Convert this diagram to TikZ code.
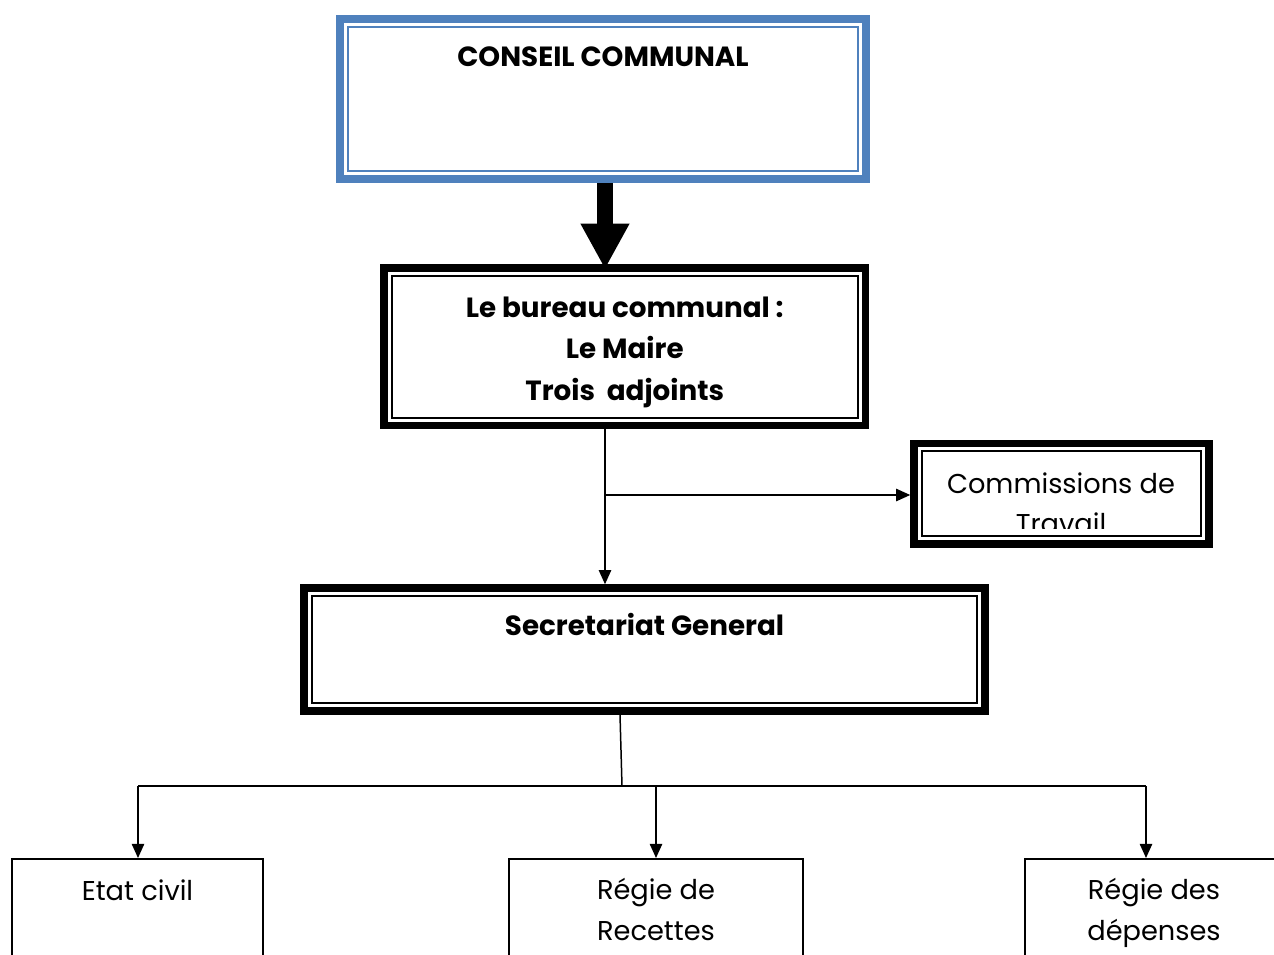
\documentclass[tikz,border=0pt]{standalone}
\usepackage{fontspec}
\setmainfont{Poppins}
\usetikzlibrary{positioning}
\usetikzlibrary{arrows.meta}
\definecolor{wordblue}{RGB}{79,129,189}
\tikzset{
    framebox/.style = {rectangle, draw=#1, line width=4.3pt, fill=white, inner sep=0pt,
        path picture={\draw[#1,line width=1.1pt]
            ([shift={(4.5pt,-4.5pt)}]path picture bounding box.north west) rectangle
            ([shift={(-4.5pt,4.5pt)}]path picture bounding box.south east);}},
    servbox/.style = {rectangle, draw=black, line width=1.1pt, anchor=north, minimum height=3cm, inner sep=0pt},
    boldtext/.style = {font=\fontsize{15.8}{23.5}\selectfont\bfseries, align=center},
    plaintext/.style = {font=\fontsize{15.5}{23}\selectfont, align=center},
    toplabel/.style = {anchor=base, inner sep=0pt, yshift=#1},
    edgen/.style = {-{Triangle[length=8pt,width=7pt]}, line width=0.85pt},
    edgep/.style = {line width=0.85pt},
    bigarrow/.style = {-{Triangle[length=26pt,width=26pt]}, line width=9pt}
}
\begin{document}
\begin{tikzpicture}[x=0.02cm, y=-0.02cm]
\useasboundingbox (0,0) rectangle (1274,954);
\clip (0,0) rectangle (1274,954);
%
\node[framebox=wordblue, minimum width=10.52cm, minimum height=3.2cm,
      label={[toplabel=-1.02cm, boldtext]north:CONSEIL COMMUNAL}] at (603,99) (conseil) {};
\node[framebox=black, minimum width=9.63cm, minimum height=3.15cm,
      label={[toplabel=-2.72cm, boldtext]north:Le bureau communal :\\Le Maire\\Trois\ \ adjoints}] at (624.75,346.75) (bureau) {};
\node[framebox=black, minimum width=5.9cm, minimum height=2.01cm] at (1061.5,493.75) (commission) {};
\node[framebox=black, minimum width=13.62cm, minimum height=2.46cm,
      label={[toplabel=-1.03cm, boldtext]north:Secretariat General}] at (644.5,649.5) (secretariat) {};
\node[servbox, minimum width=5.02cm,
      label={[toplabel=-0.84cm, plaintext]north:Etat civil}] at (137.5,858) (etat) {};
\node[servbox, minimum width=5.88cm,
      label={[toplabel=-1.64cm, plaintext]north:Régie de\\Recettes}] at (656,858) (recettes) {};
\node[servbox, minimum width=5.16cm,
      label={[toplabel=-1.64cm, plaintext]north:Régie des\\dépenses}] at (1154,858) (depenses) {};
%
\begin{scope}
\clip (913,449) rectangle (1207,528);
\node[plaintext] at (1061,503) (commtext) {Commissions de\\Travail};
\end{scope}
%
\coordinate (split) at (605,495);
\coordinate (hub) at (622,786);
\coordinate (lft) at (138,786);
\coordinate (rgt) at (1146,786);
%
\draw[bigarrow] (split |- conseil.south) -- ([yshift=-0.1cm]split |- bureau.north);
\draw[edgen] (split |- bureau.south) -- (split |- secretariat.north);
\draw[edgen] (split) -- (split -| commission.west);
\draw[edgep] ([xshift=-0.04cm]hub |- secretariat.south) -- (hub);
\draw[edgep] (lft) -- (rgt);
\draw[edgen] (lft) -- (lft |- etat.north);
\draw[edgen] (recettes.north |- hub) -- (recettes.north);
\draw[edgen] (rgt) -- (rgt |- depenses.north);
\end{tikzpicture}
\end{document}
